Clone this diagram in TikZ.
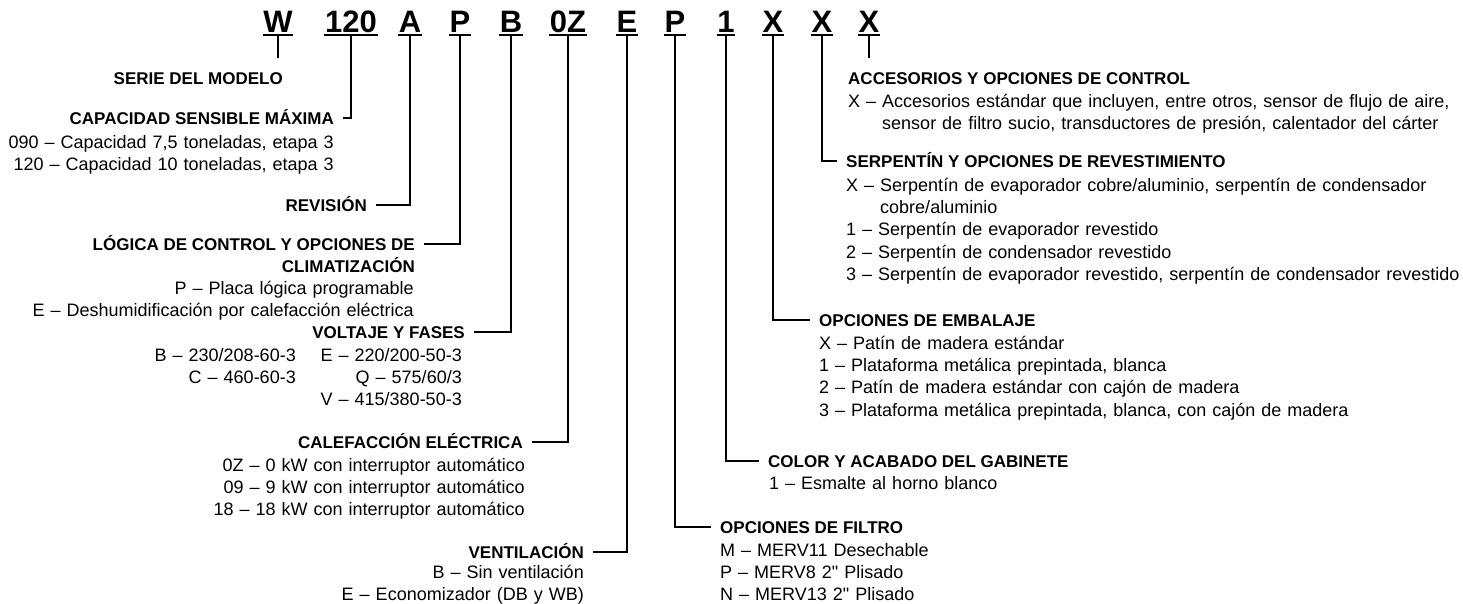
\documentclass[tikz,border=0pt]{standalone}
\usepackage{fontspec}
\setmainfont{Liberation Sans}
\tikzset{
  code/.style={font=\fontsize{31}{31}\selectfont\bfseries, inner xsep=0.5pt, inner ysep=2pt, text depth=0pt, anchor=base},
  hdl/.style={font=\fontsize{17}{20}\selectfont\bfseries, inner xsep=9pt, inner ysep=0pt, text height=12.2pt, text depth=0pt, anchor=east},
  hdr/.style={hdl, anchor=west},
  bdl/.style={font=\fontsize{18}{22}\selectfont, inner sep=0pt, text width=420pt, align=right, anchor=base east},
  bdr/.style={font=\fontsize{18}{22.2}\selectfont, inner sep=0pt, text width=620pt, align=left, anchor=base west},
  lnk/.style={line width=2.2pt},
  uline/.style={line width=1.6pt},
}
\begin{document}
\begin{tikzpicture}[x=1pt, y=-1pt]
      \useasboundingbox (0,0) rectangle (1463,604);
      %
      \foreach \n/\x/\t in {1/278/W, 2/351/120, 3/410/A, 4/460/P, 5/511/B, 6/568/0Z,
                            7/627/E, 8/675/P, 9/726/1, 10/773/X, 11/822/X, 12/869/X}
        \node[code] (c\n) at (\x,33) {\t};                % model code
      \foreach \n in {1,...,12}
        \draw[uline] (c\n.south west) -- (c\n.south east);
      %
      \coordinate (w-end) at (278,58);
      \coordinate (acc-end) at (869,58);
      %
      % left side
      \node[hdl] (serie) at (292,78) {SERIE DEL MODELO};
      \node[hdl] (capac) at (343,118) {CAPACIDAD SENSIBLE MÁXIMA};
      \node[bdl] (capbody) at (334,148.5) {090 – Capacidad 7,5 toneladas, etapa 3\\120 – Capacidad 10 toneladas, etapa 3};
      \node[hdl] (revis) at (376,205) {REVISIÓN};
      \node[hdl] (logica) at (424,244) {LÓGICA DE CONTROL Y OPCIONES DE};
      \node[hdl] (clima) at (424,266) {CLIMATIZACIÓN};
      \node[bdl] (logbody) at (414,294.5) {P – Placa lógica programable\\E – Deshumidificación por calefacción eléctrica};
      \node[hdl] (volt) at (474,332) {VOLTAJE Y FASES};
      \node[bdl] (vola) at (296,361.5) {B – 230/208-60-3\\C – 460-60-3};
      \node[bdl] (volb) at (462,361.5) {E – 220/200-50-3\\Q – 575/60/3\\V – 415/380-50-3};
      \node[hdl] (calef) at (532,442) {CALEFACCIÓN ELÉCTRICA};
      \node[bdl] (calbody) at (525,471.5) {0Z – 0 kW con interruptor automático\\09 – 9 kW con interruptor automático\\18 – 18 kW con interruptor automático};
      \node[hdl] (vent) at (593,552) {VENTILACIÓN};
      \node[bdl] (venbody) at (584,578.5) {B – Sin ventilación\\E – Economizador (DB y WB)};
      %
      % right side
      \node[hdr] (acc) at (839,78) {ACCESORIOS Y OPCIONES DE CONTROL};
      \node[bdr] (accbody) at (848,107.5) {X – Accesorios estándar que incluyen, entre otros, sensor de flujo de aire,\\\phantom{X – }sensor de filtro sucio, transductores de presión, calentador del cárter};
      \node[hdr] (serp) at (837,161) {SERPENTÍN Y OPCIONES DE REVESTIMIENTO};
      \node[bdr] (serbody) at (846,191.5) {X – Serpentín de evaporador cobre/aluminio, serpentín de condensador\\\phantom{X – }cobre/aluminio\\1 – Serpentín de evaporador revestido\\2 – Serpentín de condensador revestido\\3 – Serpentín de evaporador revestido, serpentín de condensador revestido};
      \node[hdr] (embal) at (810,320) {OPCIONES DE EMBALAJE};
      \node[bdr] (embbody) at (819,349.5) {X – Patín de madera estándar\\1 – Plataforma metálica prepintada, blanca\\2 – Patín de madera estándar con cajón de madera\\3 – Plataforma metálica prepintada, blanca, con cajón de madera};
      \node[hdr] (color) at (759,461) {COLOR Y ACABADO DEL GABINETE};
      \node[bdr] (colbody) at (769,489.5) {1 – Esmalte al horno blanco};
      \node[hdr] (filtro) at (711,527) {OPCIONES DE FILTRO};
      \node[bdr] (filbody) at (720,556.5) {M – MERV11 Desechable\\P – MERV8 2\textquotedbl{} Plisado\\N – MERV13 2\textquotedbl{} Plisado};
      %
      % leaders
      \draw[lnk] (c1.south) -- (w-end);
      \draw[lnk] (c2.south) |- (capac);
      \draw[lnk] (c3.south) |- (revis);
      \draw[lnk] (c4.south) |- (logica);
      \draw[lnk] (c5.south) |- (volt);
      \draw[lnk] (c6.south) |- (calef);
      \draw[lnk] (c7.south) |- (vent);
      \draw[lnk] (c8.south) |- (filtro);
      \draw[lnk] (c9.south) |- (color);
      \draw[lnk] (c10.south) |- (embal);
      \draw[lnk] (c11.south) |- (serp);
      \draw[lnk] (c12.south) -- (acc-end);
      %
    \end{tikzpicture}
\end{document}
